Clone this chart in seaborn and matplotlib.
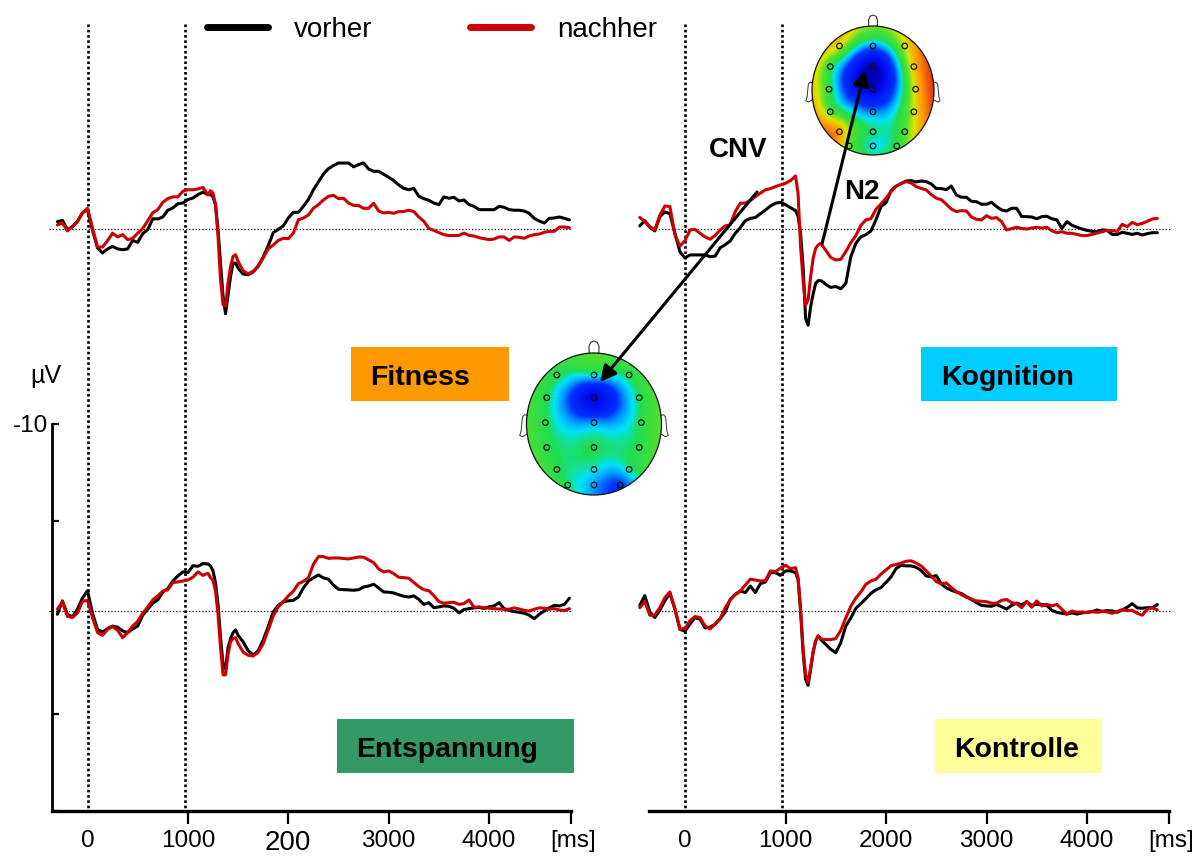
import numpy as np
import pandas as pd
import matplotlib
matplotlib.use("Agg")
import matplotlib.pyplot as plt
import seaborn as sns
from matplotlib.lines import Line2D
from matplotlib.patches import Rectangle, Ellipse
from matplotlib.colors import LinearSegmentedColormap

# ---------------- data ----------------
# sampling times (ms); denser around the N2 trough
t_left = np.r_[np.arange(-300, 1200, 50), np.arange(1200, 1500, 25), np.arange(1500, 4801, 50)]
t_right = np.r_[np.arange(-450, 1100, 50), np.arange(1100, 1400, 25), np.arange(1400, 4701, 50)]

# grand-average ERPs in µV (negative = up)
fitness_vorher = [
    -0.38, -0.45, 0.03, -0.12, -0.40, -0.84, -1.00, 0.07, 0.98, 1.24,
    1.03, 0.90, 1.03, 1.07, 1.03, 0.59, 0.69, 0.24, 0.03, -0.53,
    -0.52, -0.62, -0.97, -1.09, -1.31, -1.34, -1.52, -1.60, -1.78, -1.90,
    -1.78, -1.78, -1.66, -1.26, 0.03, 1.76, 3.48, 4.38, 3.40, 2.45, 1.76, 1.76,
    2.02, 2.33, 2.36, 2.22, 1.93, 1.45, 0.86, 0.19, 0.02, -0.16,
    -0.57, -0.86, -0.86, -1.17, -1.52, -2.03, -2.43, -2.84, -3.12, -3.28,
    -3.41, -3.41, -3.41, -3.21, -3.33, -3.41, -3.10, -2.98, -2.98, -2.83,
    -2.67, -2.50, -2.28, -2.10, -2.03, -2.10, -1.69, -1.57, -1.48, -1.34,
    -1.26, -1.66, -1.59, -1.64, -1.45, -1.50, -1.26, -1.17, -1.00, -1.00,
    -1.00, -1.00, -1.17, -1.12, -1.00, -0.97, -0.97, -0.93, -0.81, -0.55,
    -0.41, -0.31, -0.55, -0.57, -0.62, -0.55, -0.47]
fitness_nachher = [
    -0.21, -0.31, 0.10, -0.12, -0.38, -0.83, -1.07, -0.05, 0.93, 0.93,
    0.60, 0.22, 0.41, 0.29, 0.55, 0.48, 0.22, -0.02, -0.43, -0.84,
    -1.00, -1.38, -1.57, -1.66, -1.66, -1.95, -2.03, -2.03, -2.07, -2.15,
    -1.76, -1.98, -1.86, -1.26, 0.38, 2.62, 3.91, 4.00, 2.79, 1.93, 1.41, 1.33,
    1.67, 2.16, 2.31, 2.19, 1.90, 1.50, 1.02, 0.83, 0.59, 0.48,
    0.50, 0.22, -0.47, -0.57, -0.72, -1.07, -1.26, -1.50, -1.69, -1.74,
    -1.57, -1.59, -1.34, -1.22, -1.21, -1.07, -1.07, -1.33, -0.93, -0.83,
    -0.86, -0.81, -0.90, -0.90, -0.97, -0.90, -0.62, -0.40, -0.03, 0.07,
    0.19, 0.29, 0.34, 0.34, 0.33, 0.21, 0.33, 0.36, 0.45, 0.50,
    0.55, 0.52, 0.41, 0.41, 0.59, 0.41, 0.43, 0.48, 0.36, 0.29,
    0.26, 0.17, 0.12, 0.12, -0.10, -0.10, -0.07]
entspannung_vorher = [
    0.17, -0.52, 0.17, 0.31, -0.09, -0.67, -1.05, 0.12, 0.95, 1.10,
    0.91, 0.78, 0.84, 1.03, 1.12, 0.93, 0.78, 0.22, -0.09, -0.40,
    -0.57, -0.98, -1.16, -1.55, -1.81, -2.02, -1.98, -2.34, -2.31, -2.45,
    -2.43, -2.33, -2.07, -1.47, -0.34, 1.34, 2.76, 3.00, 1.90, 1.43, 1.12, 0.98,
    1.26, 1.60, 2.05, 2.28, 2.05, 1.50, 0.81, 0.05, -0.29, -0.48,
    -0.52, -0.55, -0.72, -1.19, -1.55, -1.71, -1.86, -1.71, -1.64, -1.34,
    -1.12, -1.10, -1.09, -1.07, -1.10, -1.24, -1.29, -1.38, -1.19, -0.98,
    -0.97, -0.93, -0.84, -0.76, -0.72, -0.78, -0.60, -0.34, -0.43, -0.17,
    -0.21, -0.26, -0.24, -0.14, 0.10, -0.07, -0.12, -0.16, -0.19, -0.12,
    -0.22, -0.26, -0.43, -0.12, -0.02, 0.03, 0.07, 0.12, 0.22, 0.40,
    0.17, 0.00, -0.16, -0.29, -0.26, -0.34, -0.66]
entspannung_nachher = [
    -0.09, -0.47, 0.28, 0.34, 0.10, -0.50, -0.55, 0.34, 1.12, 1.26,
    0.95, 0.81, 1.00, 1.38, 1.12, 0.78, 0.53, 0.12, -0.21, -0.57,
    -0.78, -1.03, -1.09, -1.47, -1.50, -1.55, -1.60, -1.74, -2.02, -1.84,
    -1.95, -1.72, -1.59, -1.03, 0.17, 1.90, 3.30, 3.30, 2.24, 1.59, 1.43, 1.38,
    1.69, 2.12, 2.29, 2.33, 2.14, 1.69, 0.98, 0.26, -0.21, -0.47,
    -0.78, -1.02, -1.41, -1.53, -1.71, -2.41, -2.81, -2.81, -2.72, -2.74,
    -2.74, -2.71, -2.69, -2.74, -2.79, -2.78, -2.64, -2.50, -2.17, -2.02,
    -2.07, -1.93, -1.74, -1.72, -1.69, -1.47, -1.26, -1.10, -1.05, -0.79,
    -0.48, -0.40, -0.43, -0.45, -0.34, -0.38, -0.57, -0.19, -0.21, -0.17,
    -0.14, -0.12, -0.10, -0.09, -0.09, -0.16, -0.10, -0.03, 0.00, -0.09,
    -0.16, -0.14, -0.09, -0.12, -0.05, -0.02, -0.12]
kognition_vorher = [
    -0.16, -0.43, -0.09, 0.10, -0.64, -0.88, -0.79, 0.22, 1.19, 1.50,
    1.34, 1.34, 1.34, 1.34, 1.43, 1.40, 0.97, 0.81, 0.62, 0.22,
    -0.07, -0.43, -0.55, -0.59, -0.79, -0.98, -1.19, -1.33, -1.38, -1.26,
    -1.10,
    -0.95, -0.67, 0.22, 1.95, 4.62, 4.97, 4.02, 3.36, 2.81, 2.67, 2.67, 2.74,
    2.86, 3.02, 2.97, 3.09, 2.81, 1.43, 0.74, 0.40, 0.29, 0.10,
    -0.47, -1.16, -1.36, -1.97, -2.21, -2.34, -2.48, -2.50, -2.43, -2.48,
    -2.45, -2.33, -2.09, -2.09, -2.03, -2.22, -1.76, -1.64, -1.64, -1.43,
    -1.41, -1.28, -1.28, -1.38, -1.16, -0.98, -0.93, -1.07, -1.07, -0.64,
    -0.64, -0.62, -0.53, -0.64, -0.66, -0.53, -0.47, -0.03, -0.38, -0.19,
    -0.09, 0.00, 0.07, 0.12, 0.14, 0.05, 0.07, 0.28, 0.29, 0.17,
    0.22, 0.28, 0.22, 0.31, 0.24, 0.19, 0.19]
kognition_nachher = [
    -0.60, -0.38, -0.12, 0.05, -0.72, -1.19, -1.16, 0.31, 0.88, 0.60,
    0.05, 0.02, 0.22, 0.41, 0.53, 0.33, 0.05, -0.16, -0.22, -0.90,
    -1.33, -1.34, -1.47, -1.67, -1.86, -2.02, -2.09, -2.19, -2.28, -2.36,
    -2.50,
    -2.74, -1.84, 0.91, 2.64, 3.93, 3.67, 2.47, 1.52, 1.00, 0.83, 0.74, 0.91,
    1.10, 1.47, 1.60, 1.57, 1.17, 0.71, 0.34, -0.19, -0.47, -0.53,
    -1.02, -1.29, -1.59, -1.93, -2.21, -2.36, -2.45, -2.38, -2.19, -2.10,
    -2.02, -1.78, -1.59, -1.52, -1.28, -1.03, -0.90, -0.95, -0.93, -0.62,
    -0.50, -0.47, -0.69, -0.55, -0.59, -0.38, 0.05, -0.02, -0.09, -0.03,
    0.00, -0.05, -0.09, -0.05, -0.09, 0.09, 0.19, 0.14, 0.22, 0.22,
    0.28, 0.34, 0.34, 0.28, 0.21, 0.14, 0.07, 0.09, 0.12, -0.24,
    -0.12, -0.34, -0.22, -0.29, -0.40, -0.52, -0.55]
kontrolle_vorher = [
    -0.29, -0.79, 0.05, 0.34, -0.05, -0.53, -0.91, -0.09, 0.95, 1.05,
    0.67, 0.34, 0.43, 0.88, 0.83, 0.69, 0.40, 0.05, -0.60, -0.86,
    -1.03, -0.95, -1.29, -0.95, -1.41, -1.50, -1.98, -1.98, -1.84, -2.07,
    -2.07,
    -1.98, -1.64, 0.00, 2.16, 3.53, 3.84, 3.02, 2.12, 1.55, 1.29, 1.47, 1.60,
    1.72, 1.98, 2.16, 1.64, 0.78, 0.36, -0.14, -0.38, -0.64, -0.91,
    -1.09, -1.21, -1.47, -1.76, -2.19, -2.36, -2.33, -2.33, -2.26, -2.09,
    -1.81, -1.76, -1.83, -1.40, -1.19, -1.07, -0.98, -0.90, -0.74, -0.59,
    -0.43, -0.29, -0.26, -0.24, -0.33, -0.22, -0.10, -0.29, -0.41, -0.31,
    -0.47, -0.29, -0.34, -0.34, -0.29, -0.03, 0.07, 0.12, 0.16, 0.10,
    0.16, 0.10, 0.07, 0.03, -0.05, 0.02, -0.02, 0.00, 0.07, -0.05,
    -0.19, -0.38, -0.16, -0.14, -0.17, -0.17, -0.33]
kontrolle_nachher = [
    -0.17, -0.48, 0.22, 0.22, -0.17, -0.69, -0.98, -0.09, 0.93, 0.91,
    0.50, 0.29, 0.34, 0.78, 0.93, 0.67, 0.40, -0.16, -0.57, -0.84,
    -1.03, -1.34, -1.64, -1.60, -1.55, -1.57, -2.07, -2.03, -2.21, -2.36,
    -2.19,
    -2.24, -1.72, -0.09, 1.98, 3.28, 3.71, 2.93, 2.12, 1.55, 1.29, 1.41, 1.48,
    1.48, 1.48, 1.43, 1.00, 0.36, -0.24, -0.67, -0.98, -1.38, -1.55,
    -1.64, -1.90, -2.12, -2.34, -2.40, -2.47, -2.57, -2.59, -2.48, -2.33,
    -2.07, -1.81, -1.52, -1.40, -1.45, -1.21, -1.00, -0.84, -0.71, -0.62,
    -0.52, -0.50, -0.48, -0.40, -0.40, -0.55, -0.59, -0.43, -0.38, -0.17,
    -0.50, -0.19, -0.52, -0.26, -0.34, -0.26, -0.34, -0.09, 0.16, 0.00,
    0.07, 0.05, 0.09, 0.03, 0.07, 0.02, 0.05, 0.12, 0.03, -0.07,
    -0.02, -0.03, 0.12, 0.22, -0.09, -0.16, -0.05]

# event markers (cue / target), ms
events_left = [0, 967]
events_right = [0, 964]

# tick labels of the time axes
ticks_ms = [0, 1000, 2000, 3000, 4000]
ticklabels_left = ["0", "1000", "200", "3000", "4000"]
ticklabels_right = ["0", "1000", "2000", "3000", "4000"]

# scalp maps: electrode layout (normalised head coordinates) and relative amplitude
elec_x = [-0.55, 0.0, 0.52, -0.70, 0.0, 0.67, -0.72, 0.0, 0.70,
          -0.70, 0.0, 0.67, -0.55, 0.0, 0.52, -0.39, 0.0, 0.39]
elec_y = [0.69, 0.69, 0.69, 0.37, 0.37, 0.37, 0.02, 0.02, 0.02,
          -0.33, -0.33, -0.33, -0.64, -0.64, -0.64, -0.86, -0.86, -0.86]
topo_cnv_fitness = [0.48, 0.44, 0.48, 0.47, 0.06, 0.47, 0.48, 0.36, 0.48,
                    0.49, 0.47, 0.48, 0.48, 0.43, 0.45, 0.46, 0.36, 0.28]
topo_n2_kognition = [0.66, 0.36, 0.66, 0.50, 0.00, 0.72, 0.50, 0.05, 0.70,
                     0.56, 0.34, 0.66, 0.76, 0.46, 0.56, 0.58, 0.42, 0.50]

# ---------------- style ----------------
sns.set_theme(style="white")
plt.rcParams["font.family"] = ["Liberation Sans", "DejaVu Sans"]
for k in ("text.color", "axes.labelcolor", "xtick.color", "ytick.color"):
    plt.rcParams[k] = "black"

W, H = 1200, 858
fig = plt.figure(figsize=(W / 100, H / 100), dpi=100)
fig.patch.set_facecolor("white")

palette = {"vorher": "#000000", "nachher": "#CC0000"}


def px_axes(x0, y0, w, h):
    return fig.add_axes([x0 / W, 1 - (y0 + h) / H, w / W, h / H])


def draw_panel(ax, t, pre, post, xlim, base_span):
    df = pd.concat([
        pd.DataFrame({"t": t, "uV": pre, "Messung": "vorher"}),
        pd.DataFrame({"t": t, "uV": post, "Messung": "nachher"}),
    ], ignore_index=True)
    sns.lineplot(data=df, x="t", y="uV", hue="Messung", hue_order=["vorher", "nachher"],
                 palette=palette, estimator=None, sort=False, linewidth=2.2,
                 legend=False, ax=ax, zorder=3)
    ax.hlines(0, base_span[0], base_span[1], colors="black", linewidth=0.9,
              linestyles=(0, (1, 1.6)), zorder=1, clip_on=False)
    ax.set_xlim(*xlim)
    ax.set_xlabel("")
    ax.set_ylabel("")
    ax.set_facecolor("none")
    for s in ax.spines.values():
        s.set_visible(False)
    ax.set_xticks([])
    ax.set_yticks([])


def time_axis(ax, labels, spine_start, spine_end):
    ax.spines["bottom"].set_visible(True)
    ax.spines["bottom"].set_linewidth(2.4)
    ax.spines["bottom"].set_color("black")
    ax.spines["bottom"].set_bounds(spine_start, spine_end)
    ax.set_xticks(ticks_ms)
    ax.set_xticklabels(labels)
    ax.set_xticks([spine_end], minor=True)
    ax.tick_params(axis="x", which="both", bottom=True, direction="out", length=9,
                   width=1.6, pad=5, labelsize=17.5, colors="black")
    ax.xaxis.get_major_ticks()[0].tick1line.set_visible(False)


# column geometry: 0 ms at x=87.5 px (left) / 685 px (right), ~0.1 px per ms
xl = (-350, 4815)
xr = (-480, 4815)
lx0, lw = 87.5 + 0.1004 * xl[0], 0.1004 * (xl[1] - xl[0])
rx0, rw = 685 + 0.1005 * xr[0], 0.1005 * (xr[1] - xr[0])

ax_fit = px_axes(lx0, 35.5, lw, 387)
ax_kog = px_axes(rx0, 35.5, rw, 387)
ax_ent = px_axes(lx0, 417.5, lw, 393.5)
ax_kon = px_axes(rx0, 417.5, rw, 393.5)

draw_panel(ax_fit, t_left, fitness_vorher, fitness_nachher, xl, (-380, 4830))
draw_panel(ax_kog, t_right, kognition_vorher, kognition_nachher, xr, (-300, 4830))
draw_panel(ax_ent, t_left, entspannung_vorher, entspannung_nachher, xl, (-380, 4830))
draw_panel(ax_kon, t_right, kontrolle_vorher, kontrolle_nachher, xr, (-300, 4830))

for ax in (ax_fit, ax_kog):
    ax.set_ylim(10, -10)
for ax in (ax_ent, ax_kon):
    ax.set_ylim(10.34, -10)

# dotted event lines through both rows of a column
for ax, ev in ((ax_fit, events_left), (ax_kog, events_right)):
    ax.vlines(ev, -10.6, 30.08, colors="black", linewidth=1.9,
              linestyles=(0, (1, 1.0)), zorder=1, clip_on=False)

time_axis(ax_ent, ticklabels_left, xl[0], xl[1])
ax_ent.get_xticklabels()[2].set_fontsize(20)
time_axis(ax_kon, ticklabels_right, -360, xr[1])

# amplitude calibration axis
ax_cal = px_axes(lx0, 424, 12, 387)
ax_cal.set_ylim(10, -10)
ax_cal.set_facecolor("none")
for name, s in ax_cal.spines.items():
    s.set_visible(name == "left")
ax_cal.spines["left"].set_linewidth(2.0)
ax_cal.spines["left"].set_color("black")
ax_cal.set_xticks([])
ax_cal.set_yticks([-10, -5, 5, 10])
ax_cal.set_yticklabels(["-10", "", "", ""])
ax_cal.tick_params(axis="y", left=True, direction="in", length=5, width=1.6,
                   pad=3, labelsize=17.5, colors="black")

# ---------------- scalp maps ----------------
topo_cmap = LinearSegmentedColormap.from_list("topo", [
    (0.00, "#0000B0"), (0.08, "#0008F0"), (0.28, "#0030FF"), (0.36, "#00A0FF"),
    (0.42, "#00E4F4"), (0.47, "#20DC50"), (0.57, "#50E030"), (0.66, "#D8E600"),
    (0.78, "#FF9A00"), (1.00, "#DC1400")])


def green_fn(r):
    g = np.zeros_like(r)
    m = r > 0
    g[m] = r[m] ** 2 * (np.log(r[m]) - 1)
    return g


def biharmonic(xe, ye, ve, gx, gy):
    d = np.hypot(xe[:, None] - xe[None, :], ye[:, None] - ye[None, :])
    w = np.linalg.lstsq(green_fn(d), ve, rcond=None)[0]
    dg = np.hypot(gx.ravel()[:, None] - xe[None, :], gy.ravel()[:, None] - ye[None, :])
    return (green_fn(dg) @ w).reshape(gx.shape)


def draw_topomap(cx, cy, hw, hh, values):
    ax = px_axes(cx - 1.25 * hw, cy - 1.25 * hh, 2.5 * hw, 2.5 * hh)
    xe, ye = np.array(elec_x), np.array(elec_y)
    g = np.linspace(-1.02, 1.02, 241)
    gx, gy = np.meshgrid(g, g)
    z = biharmonic(xe, ye, np.array(values), gx, gy)
    im = ax.imshow(z, extent=(-1.02, 1.02, -1.02, 1.02), origin="lower", cmap=topo_cmap,
                   vmin=0, vmax=1, interpolation="bilinear", aspect="auto")
    head = Ellipse((0, 0), 2, 2, fc="none", ec="#111111", lw=0.9, zorder=3)
    ax.add_patch(head)
    im.set_clip_path(head)
    ax.plot([-0.07, -0.075, -0.05, 0, 0.05, 0.075, 0.07],
            [0.995, 1.09, 1.15, 1.17, 1.15, 1.09, 0.995], color="#333333", lw=0.8)
    ear_x = np.array([-0.985, -1.03, -1.06, -1.07, -1.08, -1.10, -1.06, -0.99])
    ear_y = np.array([0.12, 0.13, 0.10, 0.0, -0.10, -0.16, -0.18, -0.14])
    ax.plot(ear_x, ear_y, color="#333333", lw=0.7)
    ax.plot(-ear_x, ear_y, color="#333333", lw=0.7)
    ax.scatter(xe, ye, s=16, facecolors="none", edgecolors="#101010",
               linewidths=0.9, zorder=4)
    ax.set_xlim(-1.25, 1.25)
    ax.set_ylim(-1.25, 1.25)
    ax.axis("off")
    return ax


draw_topomap(594, 424, 67.5, 71, topo_cnv_fitness)
draw_topomap(873, 90.5, 61, 64.5, topo_n2_kognition)

# ---------------- annotations ----------------
ov = fig.add_axes([0, 0, 1, 1])
ov.set_xlim(0, W)
ov.set_ylim(H, 0)
ov.axis("off")
ov.patch.set_alpha(0)

groups = [
    ("Fitness", (351, 347, 158, 54), "#FF9900", 370, 385),
    ("Kognition", (921, 347, 196, 54), "#00CCFF", 941, 385),
    ("Entspannung", (337, 719, 237, 54), "#339966", 356, 757),
    ("Kontrolle", (935, 719, 167, 54), "#FFFF99", 954, 757),
]
for name, (bx, by, bw, bh), col, tx, ty in groups:
    ov.add_patch(Rectangle((bx, by), bw, bh, facecolor=col, edgecolor="none"))
    ov.text(tx, ty, name, fontsize=20.5, fontweight="bold", ha="left", va="baseline")

ov.text(738, 157, "CNV", fontsize=20, fontweight="bold", ha="center", va="baseline")
ov.text(862, 199, "N2", fontsize=20, fontweight="bold", ha="center", va="baseline")

arrow = dict(arrowstyle="-|>", color="black", lw=2.2, mutation_scale=24,
             shrinkA=0, shrinkB=0)
ov.annotate("", xy=(600, 382), xytext=(757, 192), arrowprops=arrow)
ov.annotate("", xy=(865, 70), xytext=(822, 244), arrowprops=arrow)

ov.text(45.5, 383, "µV", fontsize=18, ha="center", va="baseline")
ov.text(573, 847, "[ms]", fontsize=17.5, ha="center", va="baseline")
ov.text(1171, 847, "[ms]", fontsize=17.5, ha="center", va="baseline")

handles = [Line2D([], [], color=palette["vorher"], lw=5),
           Line2D([], [], color=palette["nachher"], lw=5)]
fig.legend(handles, ["vorher", "nachher"], loc="center left",
           bbox_to_anchor=(207 / W, 1 - 30 / H), ncol=2, frameon=False,
           handlelength=2.2, handletextpad=0.94, columnspacing=3.5,
           fontsize=20, borderpad=0, borderaxespad=0)

fig.savefig("out.png", dpi=100, facecolor="white")
